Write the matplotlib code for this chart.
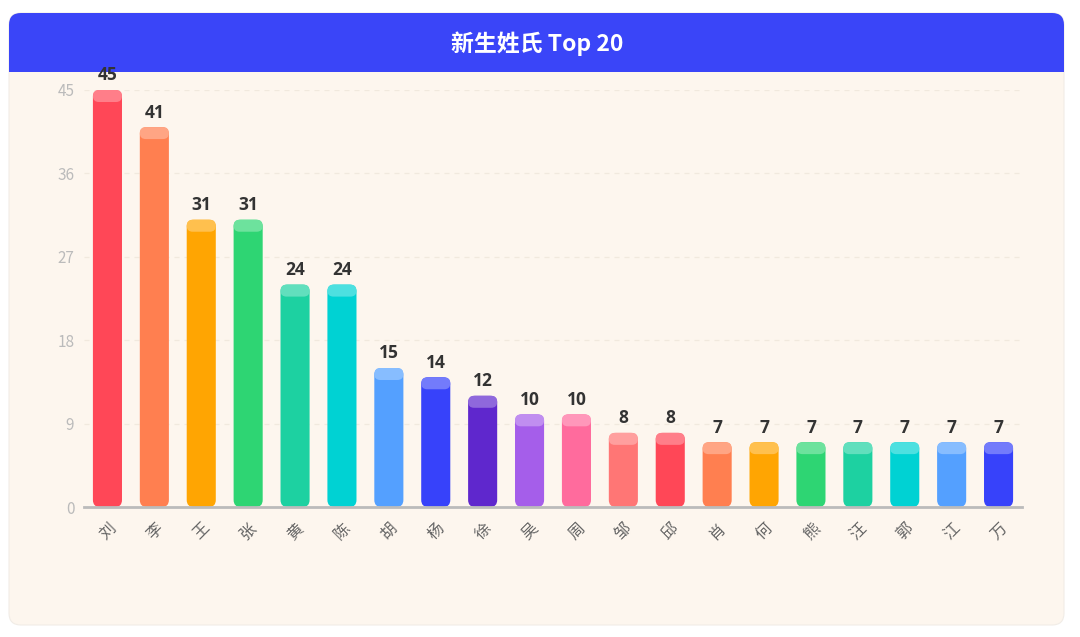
import matplotlib
matplotlib.use("Agg")
import matplotlib.pyplot as plt
from matplotlib.patches import FancyBboxPatch, Rectangle
from matplotlib.colors import to_rgb

plt.rcParams['font.family'] = ['Noto Sans CJK SC', 'DejaVu Sans']

# data
names = ['刘', '李', '王', '张', '黄', '陈', '胡', '杨', '徐', '吴',
         '周', '邹', '邱', '肖', '何', '熊', '汪', '郭', '江', '万']
counts = [45, 41, 31, 31, 24, 24, 15, 14, 12, 10,
          10, 8, 8, 7, 7, 7, 7, 7, 7, 7]
colors = ['#FF4757', '#FF7F50', '#FFA502', '#2ED573', '#1DD1A1', '#00D2D3',
          '#54A0FF', '#3742FA', '#5F27CD', '#A55EEA', '#FF6B9D', '#FF7675',
          '#FF4757', '#FF7F50', '#FFA502', '#2ED573', '#1DD1A1', '#00D2D3',
          '#54A0FF', '#3742FA']
yticks = [0, 9, 18, 27, 36, 45]
title = '新生姓氏 Top 20'

W, H = 1080, 637
fig = plt.figure(figsize=(W / 100, H / 100), dpi=100)
fig.patch.set_facecolor('white')


def fx(px):
    return px / W


def fy(py):
    return 1 - py / H


# card background
card = FancyBboxPatch((fx(9), fy(625)), fx(1064) - fx(9), fy(13) - fy(625),
                      boxstyle='round,pad=0,rounding_size=0.011',
                      mutation_aspect=W / H,
                      transform=fig.transFigure, facecolor='#FDF6EE',
                      edgecolor='#F1ECE6', linewidth=0.8, zorder=0)
fig.patches.append(card)
head = FancyBboxPatch((fx(9), fy(72)), fx(1064) - fx(9), fy(13) - fy(72),
                      boxstyle='round,pad=0,rounding_size=0.011',
                      mutation_aspect=W / H,
                      transform=fig.transFigure, facecolor='#3A45F8',
                      edgecolor='none', zorder=1)
fig.patches.append(head)
fig.patches.append(Rectangle((fx(9), fy(72)), fx(1064) - fx(9), fy(40) - fy(72),
                             transform=fig.transFigure, facecolor='#3A45F8',
                             edgecolor='none', zorder=1))
fig.text(fx(537), fy(44), title, color='white', fontsize=16.5, fontweight='bold',
         ha='center', va='center', zorder=3)

ax = fig.add_axes([fx(84), fy(507), fx(1022) - fx(84), fy(90) - fy(507)])
ax.set_zorder(5)
ax.set_facecolor('none')
ax.set_xlim(-0.5, len(names) - 0.5)
ax.set_ylim(0, 45)

bars = ax.bar(range(len(names)), counts, width=0.62, color=colors, zorder=2)

# make bars rounded with a lighter cap
fig.canvas.draw()
sx = ax.transData.transform((1, 0))[0] - ax.transData.transform((0, 0))[0]
sy = ax.transData.transform((0, 1))[1] - ax.transData.transform((0, 0))[1]
aspect = sx / sy
r = 7 / sx
for b, c in zip(bars, colors):
    b.set_visible(False)
    x0, w, h = b.get_x(), b.get_width(), b.get_height()
    ax.add_patch(FancyBboxPatch((x0, 0), w, h,
                                boxstyle=f'round,pad=0,rounding_size={r}',
                                mutation_aspect=aspect, facecolor=c,
                                edgecolor='none', zorder=2))
    rgb = to_rgb(c)
    light = tuple(v + (1 - v) * 0.3 for v in rgb)
    cap_h = 12 / sy
    ax.add_patch(FancyBboxPatch((x0, h - cap_h), w, cap_h,
                                boxstyle=f'round,pad=0,rounding_size={r * 0.85}',
                                mutation_aspect=aspect, facecolor=light,
                                edgecolor='none', zorder=3))
    ax.annotate(str(int(h)), (x0 + w / 2, h), xytext=(0, 4),
                textcoords='offset points', ha='center', va='bottom',
                fontsize=12.5, fontweight='bold', color='#333333',
                family='Open Sans', annotation_clip=False, zorder=4)

ax.set_yticks(yticks)
ax.set_xticks(range(len(names)))
ax.set_xticklabels(names, rotation=45, ha='right', va='top',
                   rotation_mode='anchor')
ax.tick_params(axis='y', length=0, pad=7, labelsize=11, labelcolor='#BBBBBB')
ax.tick_params(axis='x', length=0, pad=9, labelsize=11.5, labelcolor='#666666')
ax.grid(axis='y', linestyle=(0, (4, 4)), color='#F1E9DE', linewidth=0.9,
        zorder=1)
for s in ['top', 'right', 'left']:
    ax.spines[s].set_visible(False)
ax.spines['bottom'].set_color('#BBBBBB')
ax.spines['bottom'].set_linewidth(2)
ax.spines['bottom'].set_zorder(5)

fig.savefig('out.png', dpi=100, facecolor='white')
